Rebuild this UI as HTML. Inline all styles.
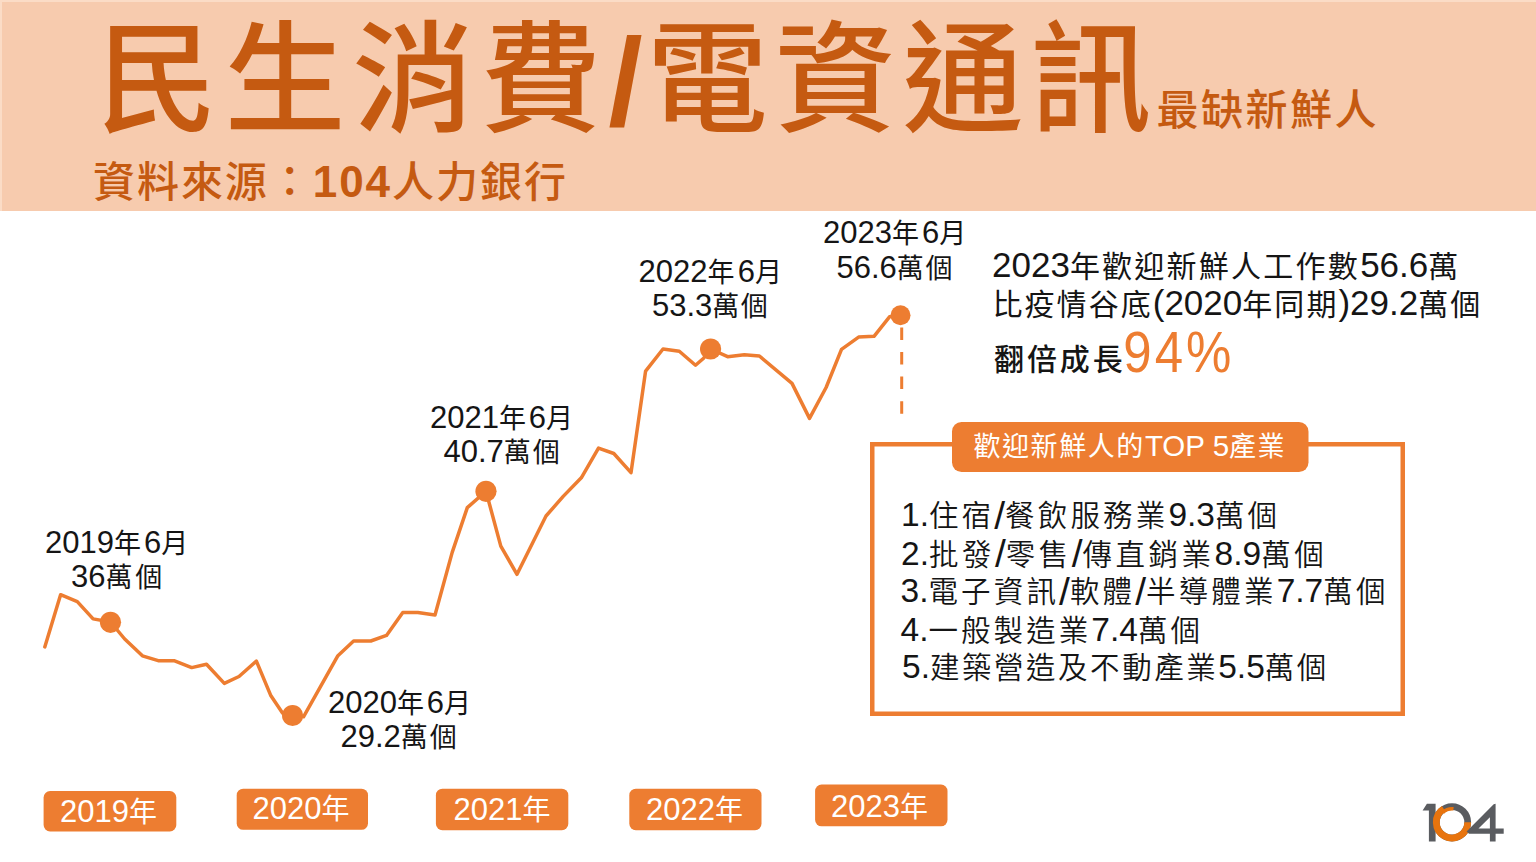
<!DOCTYPE html>
<html lang="zh-Hant">
<head>
<meta charset="utf-8">
<title>民生消費/電資通訊 最缺新鮮人</title>
<style>
html,body{margin:0;padding:0;}
body{width:1536px;height:862px;position:relative;overflow:hidden;background:#fff;
  font-family:"Liberation Sans","Noto Sans CJK TC",sans-serif;color:#151515;}
.t{position:absolute;white-space:nowrap;line-height:1;font-family:"Liberation Sans","Noto Sans CJK TC",sans-serif;}
.l{font-family:"Liberation Sans",sans-serif;}
#hdr{position:absolute;left:0;top:0;width:1536px;height:211px;background:#F7CBAE;}
#hdr:before{content:"";position:absolute;left:0;top:0;width:1536px;height:2px;background:#FBDCC6;}
#hdr:after{content:"";position:absolute;left:0;top:0;width:2px;height:211px;background:#FBDCC6;}
.tt{color:#C55A11;font-weight:700;}
.wt{color:#fff;}
.yr{position:absolute;background:#ED7D31;border-radius:6.5px;}
</style>
</head>
<body>
<div id="hdr"></div>

<svg style="position:absolute;left:0;top:0" width="1536" height="862" viewBox="0 0 1536 862">
  <polyline fill="none" stroke="#ED7D31" stroke-width="3.5" stroke-linejoin="round" stroke-linecap="round"
    points="44.8,646.9 60.6,594.7 77.3,601.6 93.1,618.9 110.5,622 124.7,639 142.4,655.8 158.2,660.7 174,660.7 191.7,667.6 206.5,664.3 224.3,683.4 239,676.5 256.4,661.1 270.6,695.2 282.5,713 292.6,715.5 303.5,716.8 337.9,655.7 353.6,641 370.8,641 386.5,635.4 402.8,612.5 417.8,612.5 435,615 452.2,552.4 467.3,507.6 486,491.3 500.8,546.1 517,574.3 546,516 563.2,496.4 581.3,477.8 598.5,448.1 613.8,453.5 631,472.7 645.6,371.1 663,349 679.3,351.3 695.5,365.3 703.6,358.3 710.6,349 727.6,356.7 744.3,354.8 759.4,356 792,383.4 809.5,418.4 826.1,387.5 841.5,349.3 858.6,337.1 874,336.3 889.5,316.8 900.5,315.2"/>
  <line x1="901.7" y1="327.4" x2="901.7" y2="415.1" stroke="#ED7D31" stroke-width="3" stroke-dasharray="12.5,12.1"/>
  <g fill="#ED7D31">
    <circle cx="110.5" cy="622.3" r="10.6"/>
    <circle cx="292.6" cy="715.5" r="10.6"/>
    <circle cx="486" cy="491.3" r="10.6"/>
    <circle cx="710.6" cy="349" r="10.6"/>
    <circle cx="900.5" cy="315.2" r="10"/>
  </g>
  <rect x="872.25" y="444.25" width="530.5" height="269.5" fill="none" stroke="#ED7D31" stroke-width="4.5"/>
  <rect x="952" y="422" width="356.5" height="50" rx="9.5" fill="#ED7D31"/>
  <g fill="#ED7D31">
    <rect x="43.6" y="791" width="132.7" height="40.5" rx="6.5"/>
    <rect x="236.7" y="788.7" width="131.3" height="41.1" rx="6.5"/>
    <rect x="435.9" y="788.7" width="132.4" height="41.5" rx="6.5"/>
    <rect x="629.3" y="788.7" width="132.2" height="41.5" rx="6.5"/>
    <rect x="815.1" y="784.6" width="132.4" height="41.7" rx="6.5"/>
  </g>
  <g>
    <path d="M1426.9,803.8 L1435.6,803.8 L1435.6,841.5 L1428.9,841.5 L1428.9,810.4 L1422.6,810.4 Z" fill="#5A5C60"/>
    <circle cx="1452" cy="822.3" r="15.7" fill="none" stroke="#5A5C60" stroke-width="6.8"/>
    <path d="M1467.7,822.3 A15.7,15.7 0 1 1 1443.7,808.9" fill="none" stroke="#E8740E" stroke-width="6.8"/>
    <path d="M1442.9,812.4 A13.6,13.6 0 0 1 1453.5,808.8" fill="none" stroke="#E8740E" stroke-width="3.4"/>
    <path fill-rule="evenodd" fill="#5A5C60" d="M1495.6,803.8 L1495.6,828.5 L1503.7,828.5 L1503.7,833.7 L1495.6,833.7 L1495.6,841.4 L1489.9,841.4 L1489.9,833.7 L1469,833.7 L1466.6,831.4 L1493.7,804.2 Z M1478.5,828.5 L1489.9,828.5 L1489.9,817.3 Z"/>
  </g>
</svg>

<div class="t tt" style="left:96.5px;top:16.5px;font-size:121px;letter-spacing:6.94px;font-weight:500;">民生消費<span class="l" style="font-size:124px;letter-spacing:4px;position:relative;top:3.5px;font-weight:700;">/</span>電資通訊</div>
<div class="t tt" style="left:1156.5px;top:89.5px;font-size:42px;letter-spacing:2.51px;font-weight:500;">最缺新鮮人</div>
<div class="t tt" style="left:93.0px;top:159.8px;font-size:42px;letter-spacing:1.95px;font-weight:500;">資料來源：<span class="l" style="font-size:44px;font-weight:700;">104</span>人力銀行</div>
<div class="t" style="left:45.0px;top:526.8px;font-size:27px;letter-spacing:2.95px;"><span class="l" style="font-size:31px;letter-spacing:0px;">2019</span>年<span class="l" style="font-size:31px;letter-spacing:0px;">6</span>月</div>
<div class="t" style="left:71.0px;top:561.0px;font-size:27px;letter-spacing:2.65px;"><span class="l" style="font-size:31px;letter-spacing:0px;">36</span>萬個</div>
<div class="t" style="left:328.0px;top:687.1px;font-size:27px;letter-spacing:2.75px;"><span class="l" style="font-size:31px;letter-spacing:0px;">2020</span>年<span class="l" style="font-size:31px;letter-spacing:0px;">6</span>月</div>
<div class="t" style="left:340.5px;top:721.2px;font-size:27px;letter-spacing:1.94px;"><span class="l" style="font-size:31px;letter-spacing:0px;">29.2</span>萬個</div>
<div class="t" style="left:430.0px;top:402.0px;font-size:27px;letter-spacing:2.85px;"><span class="l" style="font-size:31px;letter-spacing:0px;">2021</span>年<span class="l" style="font-size:31px;letter-spacing:0px;">6</span>月</div>
<div class="t" style="left:443.5px;top:436.0px;font-size:27px;letter-spacing:1.85px;"><span class="l" style="font-size:31px;letter-spacing:0px;">40.7</span>萬個</div>
<div class="t" style="left:638.5px;top:255.5px;font-size:27px;letter-spacing:3.20px;"><span class="l" style="font-size:31px;letter-spacing:0px;">2022</span>年<span class="l" style="font-size:31px;letter-spacing:0px;">6</span>月</div>
<div class="t" style="left:652.0px;top:289.8px;font-size:27px;letter-spacing:1.35px;"><span class="l" style="font-size:31px;letter-spacing:0px;">53.3</span>萬個</div>
<div class="t" style="left:823.0px;top:217.0px;font-size:27px;letter-spacing:2.95px;"><span class="l" style="font-size:31px;letter-spacing:0px;">2023</span>年<span class="l" style="font-size:31px;letter-spacing:0px;">6</span>月</div>
<div class="t" style="left:836.5px;top:252.0px;font-size:27px;letter-spacing:1.58px;"><span class="l" style="font-size:31px;letter-spacing:0px;">56.6</span>萬個</div>
<div class="t" style="left:992.0px;top:246.5px;font-size:30px;letter-spacing:2.25px;"><span class="l" style="font-size:35px;letter-spacing:0px;">2023</span>年歡迎新鮮人工作數<span class="l" style="font-size:35px;letter-spacing:0px;">56.6</span>萬</div>
<div class="t" style="left:992.5px;top:284.8px;font-size:30px;letter-spacing:2.05px;">比疫情谷底<span class="l" style="font-size:35px;letter-spacing:0px;">(2020</span>年同期<span class="l" style="font-size:35px;letter-spacing:0px;">)29.2</span>萬個</div>
<div class="t" style="left:994.0px;top:345.0px;font-size:30px;letter-spacing:2.90px;font-weight:500;">翻倍成長</div>
<div class="t" style="left:1123.3px;top:329.5px;font-size:51px;letter-spacing:0.00px;color:#ED7D31;"><span style="display:inline-block;letter-spacing:3px;transform:scaleY(1.118);transform-origin:50% 100%">94%</span></div>
<div class="t wt" style="left:973.5px;top:431.0px;font-size:27px;letter-spacing:1.56px;">歡迎新鮮人的<span class="l" style="font-size:29.5px;letter-spacing:0px;">TOP 5</span>產業</div>
<div class="t" style="left:901.0px;top:493.0px;font-size:29.5px;letter-spacing:3.15px;font-weight:350;"><span class="l" style="font-size:33.5px;letter-spacing:0px;">1.</span>住宿<span class="l" style="font-size:33.5px;letter-spacing:0px;font-size:39px;position:relative;top:2.5px;">/</span>餐飲服務業<span class="l" style="font-size:33.5px;letter-spacing:0px;">9.3</span>萬個</div>
<div class="t" style="left:901.0px;top:531.5px;font-size:29.5px;letter-spacing:3.49px;font-weight:350;"><span class="l" style="font-size:33.5px;letter-spacing:0px;">2.</span>批發<span class="l" style="font-size:33.5px;letter-spacing:0px;font-size:39px;position:relative;top:2.5px;">/</span>零售<span class="l" style="font-size:33.5px;letter-spacing:0px;font-size:39px;position:relative;top:2.5px;">/</span>傳直銷業<span class="l" style="font-size:33.5px;letter-spacing:0px;">8.9</span>萬個</div>
<div class="t" style="left:900.5px;top:569.0px;font-size:29.5px;letter-spacing:3.15px;font-weight:350;"><span class="l" style="font-size:33.5px;letter-spacing:0px;">3.</span>電子資訊<span class="l" style="font-size:33.5px;letter-spacing:0px;font-size:39px;position:relative;top:2.5px;">/</span>軟體<span class="l" style="font-size:33.5px;letter-spacing:0px;font-size:39px;position:relative;top:2.5px;">/</span>半導體業<span class="l" style="font-size:33.5px;letter-spacing:0px;">7.7</span>萬個</div>
<div class="t" style="left:900.5px;top:613.0px;font-size:29.5px;letter-spacing:3.07px;font-weight:350;"><span class="l" style="font-size:33.5px;letter-spacing:0px;">4.</span>一般製造業<span class="l" style="font-size:33.5px;letter-spacing:0px;">7.4</span>萬個</div>
<div class="t" style="left:902.0px;top:650.0px;font-size:29.5px;letter-spacing:2.53px;font-weight:350;"><span class="l" style="font-size:33.5px;letter-spacing:0px;">5.</span>建築營造及不動產業<span class="l" style="font-size:33.5px;letter-spacing:0px;">5.5</span>萬個</div>
<div class="t wt" style="left:60.0px;top:795.5px;font-size:28px;letter-spacing:-0.91px;"><span class="l" style="font-size:31px;letter-spacing:0px;">2019</span>年</div>
<div class="t wt" style="left:252.5px;top:793.0px;font-size:28px;letter-spacing:-0.34px;"><span class="l" style="font-size:31px;letter-spacing:0px;">2020</span>年</div>
<div class="t wt" style="left:453.5px;top:794.1px;font-size:28px;letter-spacing:0.11px;"><span class="l" style="font-size:31px;letter-spacing:0px;">2021</span>年</div>
<div class="t wt" style="left:646.0px;top:794.1px;font-size:28px;letter-spacing:-1.12px;"><span class="l" style="font-size:31px;letter-spacing:0px;">2022</span>年</div>
<div class="t wt" style="left:831.0px;top:790.5px;font-size:28px;letter-spacing:-0.12px;"><span class="l" style="font-size:31px;letter-spacing:0px;">2023</span>年</div>
</body>
</html>
